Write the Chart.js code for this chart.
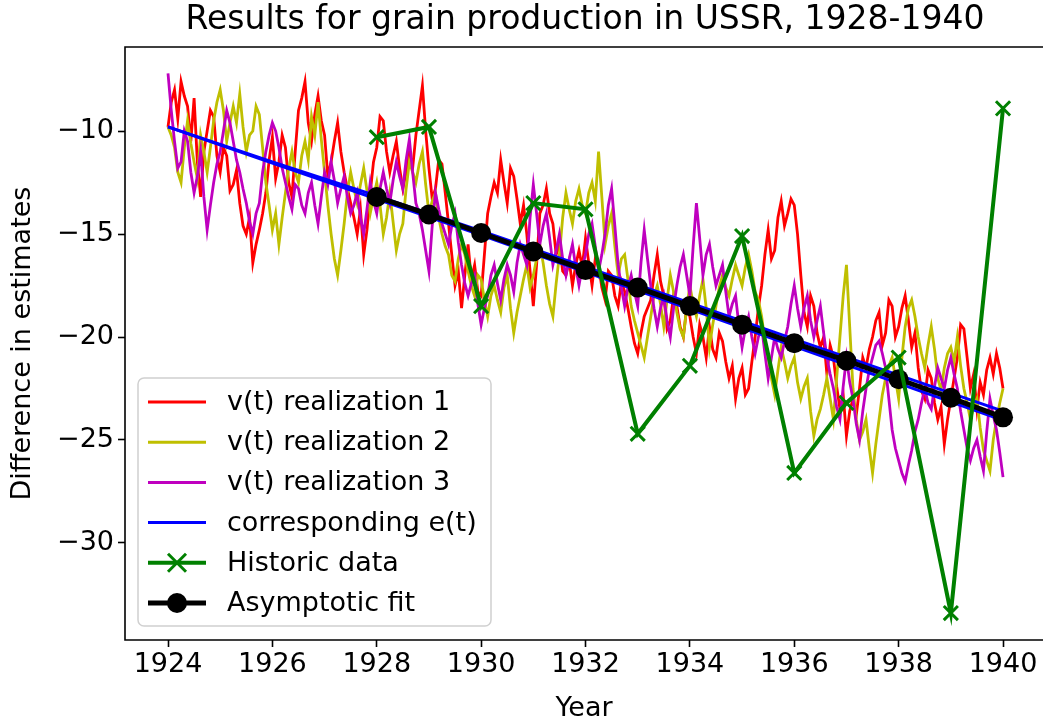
<!DOCTYPE html>
<html>
<head>
<meta charset="utf-8">
<script src="https://cdn.jsdelivr.net/npm/chart.js@4/dist/chart.umd.min.js"></script>
<style>
  html, body { margin: 0; padding: 0; background: #fff; overflow: hidden; }
  #chart { display: block; }
</style>
</head>
<body>
<canvas id="chart" width="1043" height="725" style="width:1043px;height:725px"></canvas>
<script>
// v(t) realizations, sampled every 1/16 year from 1924 on (one row per year)
const realStart = 1924;
const realStep = 0.0625;

const realization1 = [
  -9.8, -8.6, -8.0, -9.4, -7.6, -8.3, -8.8, -10.5, -8.4, -11.5, -13.2, -11.0, -10.0, -9.0, -9.3, -11.2,
  -12.0, -10.8, -11.2, -12.9, -12.6, -11.9, -13.5, -14.6, -15.0, -14.2, -16.4, -15.5, -14.8, -14.0, -13.0, -11.4,
  -10.3, -12.3, -11.5, -10.2, -10.8, -12.5, -13.2, -11.0, -9.0, -8.4, -7.6, -9.6, -10.5, -9.2, -8.3, -9.5,
  -10.2, -12.2, -11.5, -10.5, -9.6, -11.0, -12.0, -12.8, -13.5, -14.2, -15.0, -13.8, -16.0, -14.8, -13.0, -11.5,
  -10.8, -9.3, -9.5, -11.0, -12.0, -11.2, -10.5, -11.8, -12.8, -12.0, -11.0, -11.8, -10.2, -9.0, -7.8, -10.0,
  -11.8, -13.3, -12.8, -11.4, -11.6, -13.0, -14.5, -16.0, -17.5, -16.8, -18.6, -17.0, -15.5, -17.2, -16.5, -17.8,
  -18.0, -16.0, -14.0, -13.2, -12.5, -13.0, -11.4, -12.5, -13.5, -11.8, -12.2, -13.3, -14.5, -13.6, -15.0, -16.8,
  -18.5, -16.5, -14.0, -13.6, -12.8, -14.0, -14.5, -16.0, -15.5, -16.8, -17.0, -16.3, -17.5, -16.5, -15.8, -16.6,
  -15.2, -16.4, -17.5, -16.2, -16.5, -17.6, -18.2, -16.8, -17.0, -18.0, -18.5, -17.3, -17.8, -18.6, -19.5, -20.3,
  -20.8, -19.8, -19.0, -18.6, -18.2, -17.0, -16.0, -17.3, -18.0, -19.6, -19.2, -18.0, -18.5, -19.5, -20.0, -18.6,
  -19.0, -20.0, -20.8, -19.4, -20.0, -21.0, -19.5, -20.6, -21.0, -19.8, -20.2, -21.2, -22.0, -21.4, -23.0, -22.0,
  -21.5, -22.8, -22.5, -21.2, -20.0, -18.6, -17.5, -16.0, -14.8, -16.2, -15.8, -14.2, -13.4, -14.6, -14.0, -13.3,
  -13.6, -15.0, -17.0, -18.8, -19.5, -18.0, -18.5, -19.8, -20.5, -20.0, -21.8, -20.4, -21.0, -22.4, -23.5, -22.8,
  -24.8, -23.6, -23.0, -23.8, -22.5, -21.0, -21.5, -20.6, -20.0, -19.2, -18.8, -20.4, -19.8, -18.2, -18.5, -20.0,
  -19.5, -18.6, -18.0, -19.2, -20.5, -19.8, -21.5, -22.6, -23.0, -21.6, -22.0, -23.2, -24.0, -23.4, -25.2, -24.0,
  -23.0, -22.0, -21.0, -19.4, -19.6, -21.0, -22.5, -21.8, -23.5, -22.2, -22.8, -21.6, -21.0, -21.8, -20.8, -21.5,
  -22.5
];

const realization2 = [
  -9.8, -10.2, -10.8, -12.0, -12.5, -10.8, -9.5, -10.6, -11.5, -12.3, -10.2, -11.0, -12.0, -10.8, -9.5, -8.6,
  -8.0, -9.0, -10.5, -9.6, -8.8, -9.6, -8.2, -9.8, -11.0, -10.2, -10.0, -8.8, -9.2, -10.8, -12.5, -13.6,
  -14.8, -14.0, -15.5, -14.2, -13.0, -11.8, -11.0, -12.0, -12.5, -11.2, -10.5, -11.4, -9.3, -10.2, -8.6, -10.4,
  -12.0, -13.6, -15.0, -16.2, -17.0, -15.8, -14.5, -13.0, -12.0, -12.8, -13.5, -12.6, -11.8, -12.9, -14.0, -13.2,
  -12.5, -13.6, -15.0, -14.2, -13.0, -14.4, -15.8, -15.0, -14.5, -12.8, -11.5, -12.0, -12.5, -11.6, -11.0, -12.6,
  -14.0, -13.4, -13.0, -14.2, -15.0, -15.6, -16.0, -17.0, -17.3, -16.2, -15.5, -16.0, -16.8, -17.5, -18.0, -17.0,
  -17.2, -18.2, -19.0, -18.0, -17.5, -18.2, -18.8, -17.6, -17.0, -18.6, -19.8, -18.8, -18.0, -17.2, -16.5, -17.6,
  -17.0, -16.2, -15.5, -16.4, -17.5, -18.4, -19.0, -17.4, -16.0, -14.2, -13.0, -13.8, -14.5, -13.4, -12.8, -13.6,
  -14.0, -13.0, -12.5, -13.4, -11.0, -13.2, -15.5, -14.6, -14.0, -15.6, -17.0, -16.2, -16.0, -17.2, -18.5, -19.2,
  -19.8, -20.4, -21.0, -20.0, -19.0, -18.0, -17.5, -18.4, -19.5, -18.2, -17.0, -17.8, -18.8, -19.6, -20.0, -18.6,
  -17.5, -18.4, -19.0, -18.0, -17.2, -18.6, -20.5, -19.4, -18.5, -17.6, -17.0, -17.6, -18.0, -17.2, -16.5, -17.0,
  -17.5, -16.6, -16.0, -16.8, -17.8, -18.2, -19.0, -20.2, -21.0, -22.0, -22.8, -21.6, -20.5, -21.2, -22.0, -21.4,
  -21.0, -22.2, -23.0, -22.4, -22.0, -23.6, -24.8, -24.0, -23.5, -22.8, -22.0, -23.0, -24.0, -22.0, -20.0, -18.0,
  -16.5, -19.5, -22.5, -24.0, -25.0, -24.6, -24.0, -25.4, -26.6, -25.2, -24.0, -22.8, -22.0, -21.4, -21.0, -22.0,
  -23.0, -21.0, -19.5, -18.6, -18.2, -19.0, -20.0, -20.8, -21.5, -20.4, -19.5, -20.6, -22.0, -22.6, -21.5, -20.8,
  -20.5, -21.2, -20.0, -21.4, -22.5, -23.2, -24.0, -23.4, -23.0, -24.4, -25.5, -26.0, -26.5, -25.0, -24.0, -23.2,
  -22.5
];

const realization3 = [
  -7.2, -9.0, -10.5, -11.8, -11.5, -10.0, -10.5, -12.0, -13.0, -12.2, -11.0, -13.2, -14.8, -13.6, -12.5, -11.6,
  -11.0, -10.0, -9.0, -9.6, -10.5, -11.4, -12.0, -12.8, -13.5, -14.4, -15.0, -14.0, -13.5, -12.0, -11.0, -10.2,
  -9.6, -10.0, -10.8, -11.8, -12.5, -13.2, -13.8, -12.6, -12.8, -13.6, -14.0, -13.0, -12.5, -13.6, -14.5, -13.2,
  -12.0, -12.6, -11.5, -12.4, -13.5, -12.8, -12.2, -13.2, -14.0, -13.6, -13.0, -14.2, -15.0, -13.8, -12.5, -13.4,
  -14.0, -12.8, -12.0, -12.8, -13.5, -12.4, -11.5, -12.2, -12.8, -11.4, -10.4, -12.0, -13.5, -14.0, -14.8, -15.8,
  -16.8, -14.6, -13.0, -13.8, -14.5, -15.0, -15.5, -14.6, -14.0, -15.4, -16.5, -17.4, -18.0, -17.4, -17.0, -18.4,
  -19.4, -18.6, -18.0, -17.0, -16.5, -17.4, -18.2, -17.2, -16.5, -17.0, -17.8, -16.4, -15.5, -16.0, -16.5, -14.2,
  -12.6, -14.0, -15.5, -14.6, -14.0, -15.2, -16.5, -15.8, -15.0, -16.2, -17.0, -16.2, -15.5, -16.6, -17.5, -16.6,
  -16.0, -15.0, -14.5, -15.6, -16.8, -16.0, -15.0, -13.6, -12.8, -14.6, -16.5, -17.6, -18.5, -17.6, -17.0, -17.8,
  -18.5, -16.4, -14.8, -16.2, -17.5, -18.6, -19.5, -18.6, -18.0, -19.2, -20.0, -18.6, -17.5, -16.6, -16.0, -17.0,
  -18.0, -15.6, -13.5, -15.2, -17.0, -16.0, -15.5, -16.6, -17.5, -17.0, -16.5, -17.8, -19.0, -18.4, -18.0, -19.4,
  -20.5, -19.6, -19.0, -20.0, -20.8, -20.0, -19.5, -20.8, -22.0, -21.0, -20.0, -20.6, -21.0, -20.2, -19.5, -18.4,
  -17.5, -18.6, -19.5, -18.6, -18.0, -19.2, -20.0, -19.2, -18.5, -19.8, -21.0, -21.8, -22.5, -23.4, -24.0, -22.4,
  -21.0, -22.2, -23.0, -24.2, -25.0, -23.6, -22.5, -21.6, -21.0, -20.4, -20.2, -20.8, -21.5, -23.0, -24.5, -25.4,
  -26.0, -26.6, -27.0, -26.2, -25.5, -24.6, -24.0, -23.2, -22.5, -23.2, -23.5, -22.4, -21.5, -22.0, -22.5, -21.6,
  -21.0, -21.8, -22.5, -23.6, -24.5, -25.4, -26.0, -25.4, -25.0, -25.8, -26.5, -24.6, -23.0, -23.8, -24.5, -25.6,
  -26.8
];

// e(t) curves, read every two years
const eYears = [1924, 1926, 1928, 1930, 1932, 1934, 1936, 1938, 1940];
const eUpper = [-9.8, -11.5, -13.15, -14.85, -16.6, -18.35, -20.1, -21.85, -23.6];
const eLower = [-9.8, -11.55, -13.3, -15.05, -16.85, -18.65, -20.45, -22.25, -24.05];

const years = [1928, 1929, 1930, 1931, 1932, 1933, 1934, 1935, 1936, 1937, 1938, 1939, 1940];
const historic = [-10.3, -9.8, -18.5, -13.5, -13.8, -24.7, -21.4, -15.1, -26.6, -23.2, -21.0, -33.4, -8.9];
const asymptoticFit = [-13.2, -14.05, -14.95, -15.85, -16.75, -17.6, -18.5, -19.4, -20.3, -21.15, -22.05, -22.95, -23.9];

const xTicks = [1924, 1926, 1928, 1930, 1932, 1934, 1936, 1938, 1940];
const yTicks = [-30, -25, -20, -15, -10];

const FONT = "'DejaVu Sans', 'Liberation Sans', sans-serif";

const toPoints = (vals) => vals.map((v, i) => ({ x: realStart + i * realStep, y: v }));
const pair = (xs, ys) => xs.map((x, i) => ({ x: x, y: ys[i] }));

const lineSet = (label, data, color, width, order, extra) => Object.assign({
  label: label,
  data: data,
  borderColor: color,
  backgroundColor: color,
  borderWidth: width,
  pointRadius: 0,
  tension: 0,
  fill: false,
  order: order,
}, extra || {});

// matplotlib style frame; the right spine falls just outside the picture
const framePlugin = {
  id: "frame",
  afterDatasetsDraw(chart) {
    const { ctx, chartArea } = chart;
    const { left, top, right, bottom } = chartArea;
    ctx.save();
    ctx.strokeStyle = "#000";
    ctx.lineWidth = 1.6;
    ctx.beginPath();
    ctx.moveTo(right + 5, top);
    ctx.lineTo(left, top);
    ctx.lineTo(left, bottom);
    ctx.lineTo(right + 5, bottom);
    ctx.stroke();
    ctx.restore();
  },
};

const drawMarker = (ctx, style, x, y, color) => {
  if (style === "circle") {
    ctx.fillStyle = color;
    ctx.beginPath();
    ctx.arc(x, y, 10, 0, Math.PI * 2);
    ctx.fill();
  } else if (style === "crossRot") {
    ctx.strokeStyle = color;
    ctx.lineWidth = 3;
    ctx.beginPath();
    ctx.moveTo(x - 9, y - 9); ctx.lineTo(x + 9, y + 9);
    ctx.moveTo(x - 9, y + 9); ctx.lineTo(x + 9, y - 9);
    ctx.stroke();
  }
};

// legend box in the lower left corner of the axes
const legendPlugin = {
  id: "boxLegend",
  afterDraw(chart) {
    const { ctx, chartArea } = chart;
    const items = chart.data.datasets.filter((d) => !d.noLegend);
    const boxX = chartArea.left + 13;
    const boxW = 353;
    const rowH = 40.2;
    const boxH = 248;
    const boxY = chartArea.bottom - 14 - boxH;

    ctx.save();
    ctx.beginPath();
    ctx.roundRect(boxX, boxY, boxW, boxH, 6);
    ctx.fillStyle = "rgba(255,255,255,0.8)";
    ctx.fill();
    ctx.strokeStyle = "#d0d0d0";
    ctx.lineWidth = 1.5;
    ctx.stroke();

    ctx.font = "27px " + FONT;
    ctx.textBaseline = "middle";
    items.forEach((d, i) => {
      const y = boxY + 24 + i * rowH;
      ctx.strokeStyle = d.borderColor;
      ctx.lineWidth = d.legendWidth || d.borderWidth;
      ctx.beginPath();
      ctx.moveTo(boxX + 10, y);
      ctx.lineTo(boxX + 68, y);
      ctx.stroke();
      if (d.legendMarker) drawMarker(ctx, d.legendMarker, boxX + 39, y, d.borderColor);
      ctx.fillStyle = "#000";
      ctx.fillText(d.label, boxX + 89, y + 1);
    });
    ctx.restore();
  },
};

const titlePlugin = {
  id: "plotTitle",
  afterDraw(chart) {
    const { ctx } = chart;
    ctx.save();
    ctx.font = "33px " + FONT;
    ctx.fillStyle = "#000";
    ctx.textAlign = "center";
    ctx.textBaseline = "alphabetic";
    ctx.fillText("Results for grain production in USSR, 1928-1940", 585, 29);
    ctx.restore();
  },
};

const minusFmt = (v) => (v < 0 ? "\u2212" + Math.abs(v) : String(v));

new Chart(document.getElementById("chart"), {
  type: "line",
  data: {
    datasets: [
      lineSet("v(t) realization 1", toPoints(realization1), "#ff0000", 2.8, 9, { legendWidth: 3 }),
      lineSet("v(t) realization 2", toPoints(realization2), "#bfbf00", 2.8, 8, { legendWidth: 3 }),
      lineSet("v(t) realization 3", toPoints(realization3), "#bf00bf", 2.8, 7, { legendWidth: 3 }),
      lineSet("corresponding e(t)", pair(eYears, eUpper), "#0000ff", 3, 6),
      lineSet("corresponding e(t) ", pair(eYears, eLower), "#0000ff", 3, 5, { noLegend: true }),
      lineSet("Historic data", pair(years, historic), "#008000", 4, 1, {
        pointStyle: "crossRot", pointRadius: 10, pointBorderWidth: 3, legendMarker: "crossRot",
      }),
      lineSet("Asymptotic fit", pair(years, asymptoticFit), "#000000", 5, 2, {
        pointStyle: "circle", pointRadius: 10, pointBorderWidth: 0, legendMarker: "circle",
      }),
    ],
  },
  options: {
    responsive: false,
    animation: false,
    layout: { autoPadding: false, padding: { top: 47, right: 0, left: 0, bottom: 0 } },
    plugins: {
      legend: { display: false },
      tooltip: { enabled: false },
      title: { display: false },
    },
    scales: {
      x: {
        type: "linear",
        min: 1923.176,
        max: 1940.766,
        afterFit: (s) => { s.height = 85; s.paddingLeft = 0; s.paddingRight = 0; },
        afterBuildTicks: (s) => { s.ticks = xTicks.map((v) => ({ value: v })); },
        ticks: { color: "#000", font: { family: FONT, size: 27 }, padding: 2, maxRotation: 0, callback: (v) => String(v) },
        grid: { display: true, drawOnChartArea: false, drawTicks: true, tickLength: 7, tickWidth: 1.6, tickColor: "#000" },
        border: { display: false },
        title: { display: true, text: "Year", color: "#000", font: { family: FONT, size: 27 }, padding: { top: 0, bottom: 0 } },
      },
      y: {
        type: "linear",
        min: -34.71,
        max: -5.92,
        afterFit: (s) => { s.width = 125; s.paddingTop = 0; s.paddingBottom = 0; },
        afterBuildTicks: (s) => { s.ticks = yTicks.map((v) => ({ value: v })); },
        ticks: { color: "#000", font: { family: FONT, size: 27 }, padding: 4, callback: minusFmt },
        grid: { display: true, drawOnChartArea: false, drawTicks: true, tickLength: 7, tickWidth: 1.6, tickColor: "#000" },
        border: { display: false },
        title: { display: true, text: "Difference in estimates", color: "#000", font: { family: FONT, size: 27 }, padding: { top: 7, bottom: 0 } },
      },
    },
  },
  plugins: [framePlugin, legendPlugin, titlePlugin],
});
</script>
</body>
</html>
